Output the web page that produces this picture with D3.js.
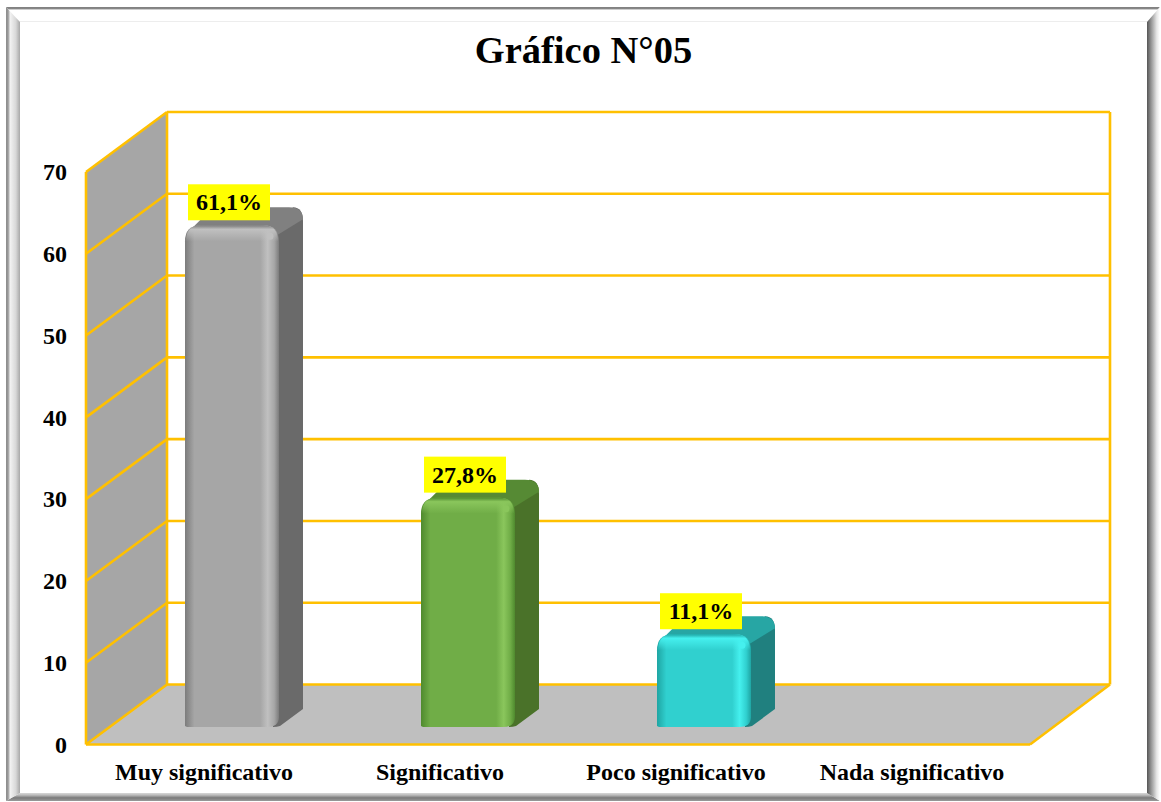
<!DOCTYPE html>
<html><head><meta charset="utf-8">
<script src="https://cdn.jsdelivr.net/npm/d3@7"></script>
<style>html,body{margin:0;padding:0;background:#fff}svg{display:block}text{font-family:"Liberation Serif",serif;font-weight:700;fill:#000}</style>
</head><body><svg id="c" width="1161" height="802"></svg>
<script>
const categories=["Muy significativo","Significativo","Poco significativo","Nada significativo"];
const values=[61.1,27.8,11.1,0];
const valueLabels=["61,1%","27,8%","11,1%",""];
const yTicks=[0,10,20,30,40,50,60,70];
const titleText="Gráfico N°05";
const frontColors=["#a6a6a6","#70ad47","#30d0cf"];
const lightColors=["#c0c0c0","#8ac65c","#45f0ee"];
const darkColors=["#7c7c7c","#4f8a2e","#1fa5a3"];
const topColors=["#808080","#568a34","#27a6a4"];
const sideColors=["#6a6a6a","#4a7229","#20807f"];

const W=1161,H=802,svg=d3.select("#c");
const defs=svg.append("defs");
const x0=86,x1=1030,yBase=744.5,yTop=172,depthX=81,depthY=60;
const y=d3.scaleLinear().domain([0,70]).range([yBase,yTop]);
const x=d3.scaleBand().domain(categories).range([x0,x1]);

function lin(id,x1,y1,x2,y2,stops){const g=defs.append("linearGradient").attr("id",id).attr("x1",x1).attr("y1",y1).attr("x2",x2).attr("y2",y2);
 stops.forEach(s=>g.append("stop").attr("offset",s[0]).attr("stop-color",s[1]).attr("stop-opacity",s[2]===undefined?1:s[2]));}
lin("fL",0,0,1,0,[[0,"#8c8c8c"],[.15,"#9a9a9a"],[.3,"#f2f2f2"],[.7,"#d8d8d8"],[1,"#a8a8a8"]]);
lin("fR",0,0,1,0,[[0,"#555"],[.35,"#9a9a9a"],[.75,"#e6e6e6"],[1,"#fff"]]);
lin("fT",0,0,0,1,[[0,"#808080"],[.12,"#888"],[.2,"#fff"],[.9,"#fff"],[1,"#e4e4e4"]]);
lin("fB",0,0,0,1,[[0,"#d8d8d8"],[.25,"#bdbdbd"],[.6,"#7a7a7a"],[1,"#9a9a9a"]]);
const F={l:6,t:7,r:1160,b:801,il:20,it:22,ir:1147,ib:793};
const poly=(p,fill)=>svg.append("polygon").attr("points",p.map(d=>d.join(",")).join(" ")).attr("fill",fill);
poly([[F.l,F.t],[F.r,F.t],[F.ir,F.it],[F.il,F.it]],"url(#fT)");
poly([[F.l,F.b],[F.r,F.b],[F.ir,F.ib],[F.il,F.ib]],"url(#fB)");
poly([[F.l,F.t],[F.il,F.it],[F.il,F.ib],[F.l,F.b]],"url(#fL)");
poly([[F.r,F.t],[F.ir,F.it],[F.ir,F.ib],[F.r,F.b]],"url(#fR)");

svg.append("text").attr("x",583.5).attr("y",63).attr("text-anchor","middle").style("font-size","38.5px").text(titleText);

const gold="#ffc000",sw=2.6;
const backL=x0+depthX,backR=x1+depthX-1;
poly([[x0,y(0)],[x0,y(70)],[backL,y(70)-depthY],[backL,y(0)-depthY]],"#a6a6a6");
poly([[x0,y(0)],[x1,y(0)],[backR,y(0)-depthY],[backL,y(0)-depthY]],"#bfbfbf");
const grid=svg.append("g").attr("stroke",gold).attr("stroke-width",sw).attr("fill","none");
yTicks.forEach(t=>{
 grid.append("line").attr("x1",backL).attr("x2",backR).attr("y1",y(t)-depthY).attr("y2",y(t)-depthY);
 grid.append("line").attr("x1",x0).attr("x2",backL).attr("y1",y(t)).attr("y2",y(t)-depthY);
});
[[x0,y(0),x0,y(70)],[backL,y(0)-depthY,backL,y(70)-depthY],[backR,y(0)-depthY,backR,y(70)-depthY],[x0,y(0),x1,y(0)],[x1,y(0),backR,y(0)-depthY]]
 .forEach(l=>grid.append("line").attr("x1",l[0]).attr("y1",l[1]).attr("x2",l[2]).attr("y2",l[3]));

const barW=94,barDX=24,barDY=18,baseRaise=17.5,r=16;
const barY=v=>y(v)-baseRaise;
values.forEach((v,i)=>{
 if(v<=0)return;
 const L=x(categories[i])+x.bandwidth()/2-barW/2+28,R=L+barW,T=barY(v)-2,B=barY(0);
 lin("h"+i,0,0,1,0,[[0,darkColors[i]],[.1,frontColors[i]],[.8,frontColors[i]],[.88,lightColors[i]],[.95,frontColors[i]],[1,darkColors[i]]]);
 lin("v"+i,0,0,0,1,[[0,darkColors[i]],[.25,lightColors[i]],[1,lightColors[i],0]]);
 const g=svg.append("g");
 g.append("path").attr("fill",sideColors[i]).attr("d",`M${R-4},${T+4} L${R+barDX-10},${T-barDY} Q${R+barDX},${T-barDY} ${R+barDX},${T-barDY+14} L${R+barDX},${B-barDY} L${R+1},${B-1} Q${R-2},${B} ${R-6},${B} Z`);
 g.append("path").attr("fill",topColors[i]).attr("d",`M${L+4},${T+6} L${L+r+6},${T-barDY+6} Q${L+r+10},${T-barDY} ${L+r+18},${T-barDY} L${R+barDX-14},${T-barDY} Q${R+barDX},${T-barDY} ${R+barDX},${T-barDY+12} L${R-2},${T+10} Z`);
 g.append("path").attr("fill",`url(#h${i})`).attr("d",`M${L},${B-1} L${L},${T+r} Q${L},${T} ${L+r},${T} L${R-r},${T} Q${R},${T} ${R},${T+r} L${R},${B-10} Q${R},${B} ${R-12},${B} L${L+2},${B} Z`);
 g.append("path").attr("fill",`url(#v${i})`).attr("d",`M${L+1},${T+r} Q${L+1},${T} ${L+r},${T} L${R-r},${T} Q${R-1},${T} ${R-1},${T+r} Z`);
 g.append("circle").attr("cx",R-9).attr("cy",T+11).attr("r",3.5).attr("fill",lightColors[i]);
 const cx=L+44,cy=T-23;
 g.append("rect").attr("x",cx-41).attr("y",cy-18).attr("width",82).attr("height",36).attr("fill","#ffff00");
 g.append("text").attr("x",cx).attr("y",cy+8).attr("text-anchor","middle").style("font-size","24px").text(valueLabels[i]);
});

const ax=svg.append("g").attr("transform","translate(67,0)").call(d3.axisLeft(y).tickValues(yTicks).tickSize(0).tickPadding(0));
ax.select(".domain").remove();
ax.selectAll("text").style("font-size","24px").attr("font-family",null).attr("dy","0.32em");
const bx=svg.append("g").attr("transform","translate(0,755)").call(d3.axisBottom(x).tickSize(0).tickPadding(0));
bx.select(".domain").remove();
bx.selectAll("text").style("font-size","24px").attr("dy","1.05em");
</script></body></html>
